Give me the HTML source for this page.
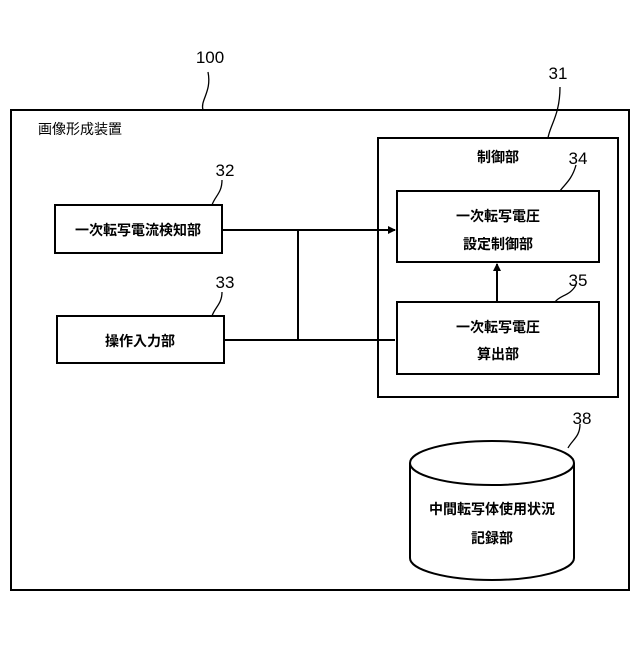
<!DOCTYPE html><html><head><style>body{margin:0;background:#fff}</style></head><body>
<svg width="640" height="640" xmlns="http://www.w3.org/2000/svg" font-family="Liberation Sans, Noto Sans CJK JP, sans-serif">
<defs><marker id="a" markerWidth="8" markerHeight="8" refX="7" refY="4" orient="auto" markerUnits="userSpaceOnUse"><path d="M0,0L8,4L0,8z" fill="#000"/></marker></defs>
<g fill="none" stroke="#000" stroke-width="2">
<rect x="11" y="110" width="618" height="480"/>
<rect x="378" y="138" width="240" height="259"/>
<rect x="397" y="191" width="202" height="71"/>
<rect x="397" y="302" width="202" height="72"/>
<rect x="55" y="205" width="167" height="48"/>
<rect x="57" y="316" width="167" height="47"/>
<path d="M222,230H395M298,230V340M224,340H395M497,302V264" marker-end="url(#a)"/>
<path d="M222,230H395" marker-end="url(#a)"/>
<path d="M410,463V558A82,22 0 0 0 574,558V463"/>
<ellipse cx="492" cy="463" rx="82" ry="22"/>
<g stroke-width="1.3"><path d="M203,110C200,100 212,92 208,72"/><path d="M548,138C550,125 560,115 560,87"/><path d="M212,205C215,196 222,193 222,180"/><path d="M212,316C215,307 222,304 222,292"/><path d="M560,191C564,185 572,180 576,165"/><path d="M555,302C560,295 570,296 576,285"/><path d="M568,448C572,440 580,437 580,424"/></g>
</g>
<g font-size="17" text-anchor="middle"><text x="210" y="63">100</text><text x="558" y="79">31</text><text x="225" y="176">32</text><text x="225" y="288">33</text><text x="578" y="164">34</text><text x="578" y="286">35</text><text x="582" y="424">38</text></g>
<g font-size="14" text-anchor="middle" font-weight="bold"><text x="80" y="134" font-weight="normal">画像形成装置</text><text x="498" y="162">制御部</text>
<text x="138" y="235">一次転写電流検知部</text><text x="140" y="346">操作入力部</text>
<text x="498" y="221">一次転写電圧</text><text x="498" y="249">設定制御部</text>
<text x="498" y="332">一次転写電圧</text><text x="498" y="359">算出部</text>
<text x="492" y="514">中間転写体使用状況</text><text x="492" y="543">記録部</text></g>
</svg></body></html>
